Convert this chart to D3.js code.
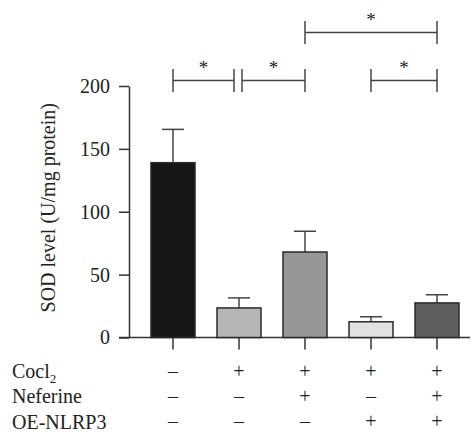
<html>
<head>
<meta charset="utf-8"/>
<script src="https://d3js.org/d3.v7.min.js"></script>
<style>
  body { margin: 0; background: #fff; }
  text { font-family: "Liberation Serif", "Times New Roman", serif; fill: #222; }
</style>
</head>
<body>
<div id="v"></div>
<script type="text/javascript">
(function() {

// data
var groups = ["control", "cocl2", "cocl2+nef", "cocl2+oe", "cocl2+nef+oe"];
var means = [139, 23.5, 68, 12.5, 27.5];
var errors = [26.5, 8, 16.5, 4, 6.5];
var barColors = ["#161616", "#b5b6b8", "#969696", "#e0e2e1", "#5f5f5f"];
var yTicks = [0, 50, 100, 150, 200];
var rowNames = ["Cocl", "Neferine", "OE-NLRP3"];
var treatments = [
  ["\u2013", "+", "+", "+", "+"],
  ["\u2013", "\u2013", "+", "\u2013", "+"],
  ["\u2013", "\u2013", "\u2013", "+", "+"]
];
// significance brackets: from group, to group, level
var brackets = [[0, 1, 0], [1, 2, 0], [3, 4, 0], [2, 4, 1]];

var width = 473, height = 432;
var fs = "20px";
var svg = d3.select("#v").append("svg")
  .attr("width", width)
  .attr("height", height);

var axisColor = "#333";
var y = d3.scaleLinear().domain([0, 200]).range([337.5, 86]);
var x = d3.scaleBand().domain(d3.range(groups.length))
  .range([140, 470]).paddingInner(1/3).paddingOuter(1/6);
var cx = function(i) { return x(i) + x.bandwidth() / 2; };

// y axis
var yAxis = svg.append("g")
  .attr("transform", "translate(129,0)")
  .call(d3.axisLeft(y).tickValues(yTicks).tickSize(10).tickSizeOuter(0).tickPadding(9));
yAxis.selectAll("path, line").attr("stroke", axisColor).attr("stroke-width", 1.5);
yAxis.selectAll("text")
  .style("font-family", "'Liberation Serif', serif")
  .style("font-size", fs)
  .attr("fill", "#222");

// x axis
svg.append("line")
  .attr("x1", 119).attr("x2", 470)
  .attr("y1", y(0)).attr("y2", y(0))
  .attr("stroke", axisColor).attr("stroke-width", 1.5);
svg.selectAll(".xtick")
  .data(groups).enter()
  .append("line")
  .attr("class", "xtick")
  .attr("x1", function(d, i) { return cx(i); })
  .attr("x2", function(d, i) { return cx(i); })
  .attr("y1", y(0)).attr("y2", y(0) + 12)
  .attr("stroke", axisColor).attr("stroke-width", 1.5);

// error bars (drawn first so bars cover the lower part)
var err = svg.selectAll(".err")
  .data(means).enter()
  .append("g")
  .attr("class", "err")
  .attr("stroke", "#444")
  .attr("stroke-width", 1.5);
err.append("line")
  .attr("x1", function(d, i) { return cx(i); })
  .attr("x2", function(d, i) { return cx(i); })
  .attr("y1", function(d) { return y(d); })
  .attr("y2", function(d, i) { return y(d + errors[i]); });
err.append("line")
  .attr("x1", function(d, i) { return cx(i) - 11; })
  .attr("x2", function(d, i) { return cx(i) + 11; })
  .attr("y1", function(d, i) { return y(d + errors[i]); })
  .attr("y2", function(d, i) { return y(d + errors[i]); });

// bars
svg.selectAll(".bar")
  .data(means).enter()
  .append("rect")
  .attr("class", "bar")
  .attr("x", function(d, i) { return x(i); })
  .attr("width", x.bandwidth())
  .attr("y", function(d) { return y(d); })
  .attr("height", function(d) { return y(0) - y(d); })
  .attr("fill", function(d, i) { return barColors[i]; })
  .attr("stroke", "#2a2a2a")
  .attr("stroke-width", 1.5);

// significance brackets
var levelY = [80.5, 32.5];
var br = svg.selectAll(".bracket")
  .data(brackets).enter()
  .append("g")
  .attr("class", "bracket")
  .attr("stroke", "#444")
  .attr("stroke-width", 1.5);
// small gap where two brackets on the same level share a bar
function endX(b, side) {
  var g = b[side], px = cx(g);
  var shared = brackets.some(function(o) {
    return o !== b && o[2] === b[2] && o[1 - side] === g;
  });
  if (!shared) return px;
  return side === 0 ? px + 3 : px - 5;
}
br.append("line")
  .attr("x1", function(d) { return endX(d, 0); })
  .attr("x2", function(d) { return endX(d, 1); })
  .attr("y1", function(d) { return levelY[d[2]]; })
  .attr("y2", function(d) { return levelY[d[2]]; });
br.append("line")
  .attr("x1", function(d) { return endX(d, 0); })
  .attr("x2", function(d) { return endX(d, 0); })
  .attr("y1", function(d) { return levelY[d[2]] - 11.5; })
  .attr("y2", function(d) { return levelY[d[2]] + 11.5; });
br.append("line")
  .attr("x1", function(d) { return endX(d, 1); })
  .attr("x2", function(d) { return endX(d, 1); })
  .attr("y1", function(d) { return levelY[d[2]] - 11.5; })
  .attr("y2", function(d) { return levelY[d[2]] + 11.5; });
svg.selectAll(".star")
  .data(brackets).enter()
  .append("text")
  .attr("class", "star")
  .attr("x", function(d) { return (endX(d, 0) + endX(d, 1)) / 2; })
  .attr("y", function(d) { return levelY[d[2]] - 7; })
  .attr("text-anchor", "middle")
  .style("font-size", "19px")
  .attr("fill", "#444")
  .text("*");

// y axis title
svg.append("text")
  .attr("transform", "translate(55," + ((y.range()[0] + y.range()[1]) / 2 - 4) + ") rotate(-90)")
  .attr("text-anchor", "middle")
  .style("font-size", fs)
  .text("SOD level (U/mg protein)");

// treatment table
var rowY = d3.scalePoint().domain(d3.range(rowNames.length)).range([371.5, 422]);
var rowLabels = svg.selectAll(".rowName")
  .data(rowNames).enter()
  .append("text")
  .attr("class", "rowName")
  .attr("x", 12)
  .attr("y", function(d, i) { return rowY(i) + 6.5; })
  .style("font-size", fs)
  .text(function(d) { return d; });
rowLabels.filter(function(d, i) { return i === 0; })
  .append("tspan")
  .attr("dy", 5)
  .style("font-size", "13px")
  .text("2");

treatments.forEach(function(row, r) {
  svg.selectAll(".sign" + r)
    .data(row).enter()
    .append("text")
    .attr("class", "sign" + r)
    .attr("x", function(d, i) { return cx(i); })
    .attr("y", rowY(r))
    .attr("dy", "0.32em")
    .attr("text-anchor", "middle")
    .style("font-size", fs)
    .text(function(d) { return d; });
});

})();
</script>
</body>
</html>
